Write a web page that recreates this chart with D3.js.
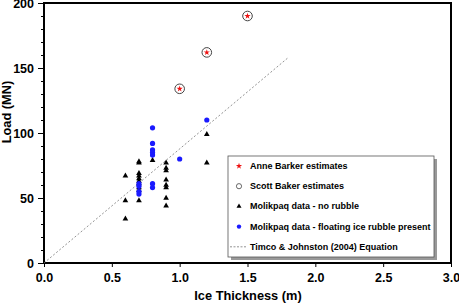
<!DOCTYPE html>
<html>
<head>
<meta charset="utf-8">
<script src="https://cdn.jsdelivr.net/npm/d3@7"></script>
<style>
  body { margin: 0; background: #fff; }
  text { font-family: "Liberation Sans", Arial, sans-serif; font-weight: bold; }
</style>
</head>
<body>
<div id="chart"></div>
<script>
// data
var anneX = [1.0, 1.2, 1.5];
var anneY = [134, 162, 190];
var scottX = [1.0, 1.2, 1.5];
var scottY = [134, 162, 190];
var noRubbleX = [0.6, 0.6, 0.6,
                 0.7, 0.7, 0.7, 0.7, 0.7, 0.7, 0.7, 0.7, 0.7, 0.7,
                 0.8,
                 0.9, 0.9, 0.9, 0.9, 0.9, 0.9, 0.9, 0.9,
                 1.2, 1.2];
var noRubbleY = [67, 48, 34,
                 78, 77, 69, 67, 65, 63, 61, 58, 56, 48,
                 79,
                 77, 73, 71, 64, 60, 58, 50, 44,
                 99, 77];
var rubbleX = [0.7, 0.7, 0.7, 0.7, 0.8, 0.8, 0.8, 0.8, 0.8, 0.8, 0.8, 1.0, 1.2];
var rubbleY = [61, 59, 55, 53, 104, 92, 87, 85, 83, 61, 58, 80, 110];
var timcoX = [0, 1.8];
var timcoY = [0, 158];
var xTicks = [0, 0.5, 1.0, 1.5, 2.0, 2.5, 3.0];
var yTicks = [0, 50, 100, 150, 200];
var legendLabels = ["Anne Barker estimates", "Scott Baker estimates", "Molikpaq data - no rubble",
                    "Molikpaq data - floating ice rubble present", "Timco & Johnston (2004) Equation"];

var w = 459, h = 306;
var padL = 44, padR = 451, padT = 3, padB = 263;

var svg = d3.select("#chart").append("svg")
    .attr("width", w)
    .attr("height", h);

var xScale = d3.scaleLinear().domain([0, 3]).range([padL, padR]);
var yScale = d3.scaleLinear().domain([0, 200]).range([padB, padT]);

// minor y ticks
var yMinor = d3.range(0, 201, 10);
svg.append("g")
    .attr("transform", "translate(" + padL + ",0)")
    .call(d3.axisLeft(yScale).tickValues(yMinor).tickSize(3).tickFormat(""))
    .call(function(g){ g.select(".domain").remove(); });

var yAxis = svg.append("g")
    .attr("transform", "translate(" + padL + ",0)")
    .call(d3.axisLeft(yScale).tickValues(yTicks).tickSize(6).tickPadding(4).tickFormat(d3.format("d")));
yAxis.select(".domain").remove();
yAxis.selectAll("text").attr("font-size", 12.5).attr("fill", "#000")
    .style("font-family", "Liberation Sans, Arial, sans-serif").style("font-weight", "bold");

var xAxis = svg.append("g")
    .attr("transform", "translate(0," + padB + ")")
    .call(d3.axisBottom(xScale).tickValues(xTicks).tickSize(4).tickPadding(6).tickFormat(d3.format(".1f")));
xAxis.select(".domain").remove();
xAxis.selectAll("text").attr("font-size", 12.5).attr("fill", "#000")
    .style("font-family", "Liberation Sans, Arial, sans-serif").style("font-weight", "bold");

// plot frame
svg.append("rect")
    .attr("x", padL)
    .attr("y", padT)
    .attr("width", padR - padL)
    .attr("height", padB - padT)
    .attr("fill", "none")
    .attr("stroke", "#000")
    .attr("stroke-width", 2);

// Timco & Johnston line
var line = d3.line()
    .x(function(d){ return xScale(d[0]); })
    .y(function(d){ return yScale(d[1]); });
svg.append("path")
    .datum(d3.zip(timcoX, timcoY))
    .attr("d", line)
    .attr("fill", "none")
    .attr("stroke", "#777")
    .attr("stroke-width", 0.8)
    .attr("stroke-dasharray", "2,2");

var tri = d3.symbol().type(d3.symbolTriangle).size(14);
var star = d3.symbol().type(d3.symbolStar).size(12);

svg.append("g").selectAll("path")
    .data(d3.zip(noRubbleX, noRubbleY))
    .enter()
    .append("path")
    .attr("d", tri)
    .attr("transform", function(d){ return "translate(" + xScale(d[0]) + "," + yScale(d[1]) + ")"; })
    .attr("fill", "#000");

svg.append("g").selectAll("circle")
    .data(d3.zip(rubbleX, rubbleY))
    .enter()
    .append("circle")
    .attr("cx", function(d){ return xScale(d[0]); })
    .attr("cy", function(d){ return yScale(d[1]); })
    .attr("r", 2.6)
    .attr("fill", "#1a1aff");

svg.append("g").selectAll("circle")
    .data(d3.zip(scottX, scottY))
    .enter()
    .append("circle")
    .attr("cx", function(d){ return xScale(d[0]); })
    .attr("cy", function(d){ return yScale(d[1]); })
    .attr("r", 4.8)
    .attr("fill", "none")
    .attr("stroke", "#444")
    .attr("stroke-width", 1);

svg.append("g").selectAll("path")
    .data(d3.zip(anneX, anneY))
    .enter()
    .append("path")
    .attr("d", star)
    .attr("transform", function(d){ return "translate(" + xScale(d[0]) + "," + yScale(d[1]) + ")"; })
    .attr("fill", "#ee1111");

// axis titles
svg.append("text")
    .attr("x", 248)
    .attr("y", 300)
    .attr("text-anchor", "middle")
    .attr("font-size", 12.8)
    .text("Ice Thickness (m)");
svg.append("text")
    .attr("transform", "rotate(-90)")
    .attr("x", -112)
    .attr("y", 11)
    .attr("text-anchor", "middle")
    .attr("font-size", 12.8)
    .text("Load (MN)");

// legend
var lx = 228, ly = 156, lw = 206, lh = 101;
svg.append("rect")
    .attr("x", lx + 3).attr("y", ly + 3)
    .attr("width", lw).attr("height", lh)
    .attr("fill", "#999");
svg.append("rect")
    .attr("x", lx).attr("y", ly)
    .attr("width", lw).attr("height", lh)
    .attr("fill", "#fff")
    .attr("stroke", "#555")
    .attr("stroke-width", 0.8);

var legend = svg.append("g");
legendLabels.forEach(function(lbl, i){
    var yy = ly + 10 + i * 20.2;
    var sx = 239;
    if (i == 0) {
        legend.append("path").attr("d", star).attr("fill", "#ee1111")
            .attr("transform", "translate(" + sx + "," + yy + ")");
    } else if (i == 1) {
        legend.append("circle").attr("cx", sx).attr("cy", yy).attr("r", 2.6)
            .attr("fill", "none").attr("stroke", "#444").attr("stroke-width", 0.8);
    } else if (i == 2) {
        legend.append("path").attr("d", d3.symbol().type(d3.symbolTriangle).size(11))
            .attr("fill", "#000").attr("transform", "translate(" + sx + "," + yy + ")");
    } else if (i == 3) {
        legend.append("circle").attr("cx", sx).attr("cy", yy).attr("r", 2.2).attr("fill", "#1a1aff");
    } else {
        legend.append("line").attr("x1", 230).attr("x2", 247).attr("y1", yy).attr("y2", yy)
            .attr("stroke", "#777").attr("stroke-width", 0.8).attr("stroke-dasharray", "2,1.5");
    }
    legend.append("text")
        .attr("x", 250)
        .attr("y", yy + 3)
        .attr("font-size", 9)
        .text(lbl);
});
</script>
</body>
</html>
